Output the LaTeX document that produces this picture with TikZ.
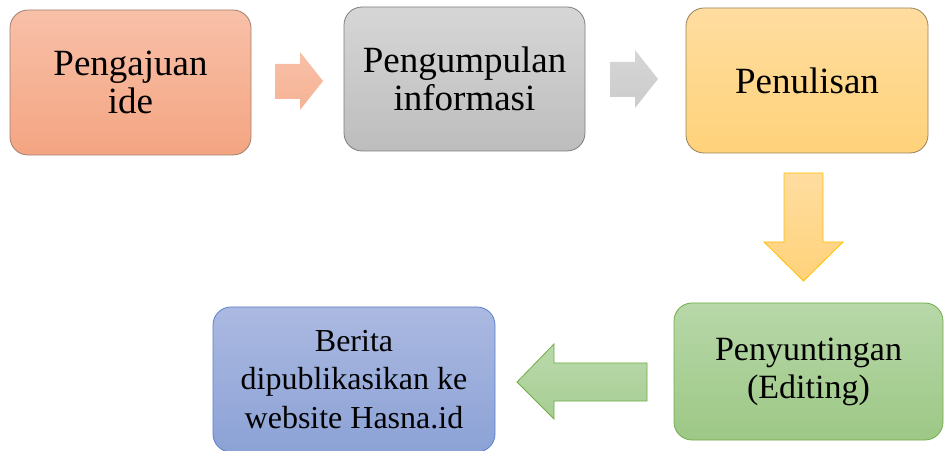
\documentclass[tikz,border=0pt]{standalone}
\usepackage{fontspec}
\setmainfont{Liberation Serif}
\usepackage{tikz}
\usetikzlibrary{positioning}

\definecolor{oranget}{RGB}{248,192,168}
\definecolor{orangeb}{RGB}{244,165,130}
\definecolor{orangel}{RGB}{160,125,110}
\definecolor{grayt}{RGB}{214,214,214}
\definecolor{grayb}{RGB}{189,189,189}
\definecolor{grayl}{RGB}{125,125,125}
\definecolor{yellowt}{RGB}{255,221,160}
\definecolor{yellowb}{RGB}{255,210,122}
\definecolor{yellowl}{RGB}{150,130,90}
\definecolor{yellowa}{RGB}{255,192,0}
\definecolor{greent}{RGB}{183,215,168}
\definecolor{greenb}{RGB}{157,200,134}
\definecolor{greenl}{RGB}{112,173,71}
\definecolor{bluet}{RGB}{171,185,225}
\definecolor{blueb}{RGB}{140,162,214}
\definecolor{bluel}{RGB}{90,128,204}

\begin{document}
\begin{tikzpicture}[x=1pt,y=1pt,%
                    stage/.style={rectangle,rounded corners=18pt,line width=.8pt,align=center,%
                                  font=\fontsize{37}{38}\selectfont},%
                    flow/.style={line width=.8pt,line join=miter}]%
                    \useasboundingbox (0,0) rectangle (945,450); %%
                    \begin{scope}
                        \node[stage,minimum width=241,minimum height=145,top color=oranget,bottom color=orangeb,draw=orangel] (ide) at (130.5,367.5) {Pengajuan\\ide}; %%
                        \node[stage,minimum width=241,minimum height=144,top color=grayt,bottom color=grayb,draw=grayl] (info) at (464.5,371) {Pengumpulan\\informasi}; %%
                        \node[stage,minimum width=242,minimum height=145,top color=yellowt,bottom color=yellowb,draw=yellowl] (tulis) at (807,369.5) {Penulisan}; %%
                        \node[stage,minimum width=269,minimum height=137,top color=greent,bottom color=greenb,draw=greenl,%
                              font=\fontsize{34}{38}\selectfont] (edit) at (808.5,78.5) {Penyuntingan\\(Editing)}; %%
                        \node[stage,minimum width=282,minimum height=145,top color=bluet,bottom color=blueb,draw=bluel,%
                              font=\fontsize{32}{38.5}\selectfont] (terbit) at (354,70.5) {Berita\\dipublikasikan ke\\website Hasna.id}; %%
                    \end{scope}
                        \shade[top color=oranget,bottom color=orangeb!85!white] (275,386)--(300,386)--(300,398)--(323,369)--(300,340)--(300,351)--(275,351)--cycle; %%
                        \shade[top color=grayt,bottom color=grayt!95!black] (610,388)--(635,388)--(635,400)--(658,371)--(635,342)--(635,353)--(610,353)--cycle; %%
                        \shade[flow,top color=yellowt,bottom color=yellowb,draw=yellowa] (784,277)--(823,277)--(823,208)--(843,208)--(803.5,169)--(764,208)--(784,208)--cycle; %%
                        \shade[flow,top color=greent!95!white,bottom color=greenb!90!white,draw=greenl] (647,87)--(554,87)--(554,106)--(517,68)--(554,31)--(554,49)--(647,49)--cycle; %%
                    \end{tikzpicture}
\end{document}
